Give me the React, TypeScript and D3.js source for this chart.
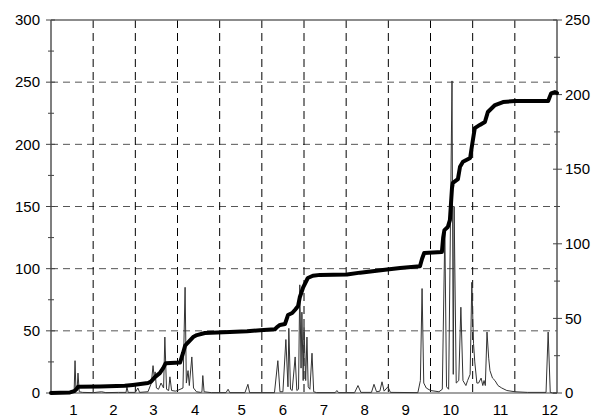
import React from "react";
import * as d3 from "d3";

// cumulative (thick) series: [x, value on left axis]
const cumX = [0, 0.45, 0.55, 0.6, 0.64, 1.16, 1.75, 1.94, 2.3, 2.37, 2.47, 2.58, 2.66, 2.72, 3.06, 3.13, 3.18, 3.23, 3.37, 3.46, 3.65, 4.24, 4.65, 4.96, 5.31, 5.36, 5.43, 5.55, 5.62, 5.72, 5.79, 5.86, 5.9, 5.98, 6.09, 6.21, 6.38, 7.02, 7.33, 7.87, 8.28, 8.75, 8.8, 8.85, 9.27, 9.3, 9.33, 9.41, 9.46, 9.51, 9.53, 9.65, 9.7, 9.77, 9.94, 9.98, 10.05, 10.17, 10.29, 10.36, 10.53, 10.72, 11.0, 11.79, 11.86, 11.95, 12.0];
const cumV = [0, 0.5, 1.5, 3, 5, 5.2, 5.8, 6.5, 8, 9.1, 13, 16, 20, 24, 24.5, 32, 38, 40, 45, 46.6, 48.3, 49.1, 49.6, 50.5, 51.3, 53, 54.7, 55.5, 62.7, 64.3, 67, 70, 77, 85, 92.5, 94.3, 95, 95.3, 96.8, 99, 100.5, 102, 108, 112.6, 113.4, 125, 131, 133.5, 139, 165, 169, 172, 182, 186, 189, 198, 213, 215.6, 218, 226, 231.6, 234, 234.9, 234.9, 241, 242, 241.3];

// chromatogram (thin) series: [x, value on left axis]
const sigX = [0, 0.5, 0.55, 0.57, 0.59, 0.62, 0.64, 0.67, 0.75, 1.0, 1.2, 1.3, 1.6, 1.78, 1.8, 1.83, 2.0, 2.06, 2.1, 2.3, 2.38, 2.42, 2.45, 2.47, 2.5, 2.55, 2.61, 2.67, 2.7, 2.74, 2.79, 2.82, 2.86, 2.95, 3.0, 3.13, 3.18, 3.21, 3.25, 3.28, 3.34, 3.38, 3.45, 3.55, 3.58, 3.6, 3.63, 3.8, 4.15, 4.2, 4.24, 4.6, 4.67, 4.71, 5.3, 5.38, 5.43, 5.5, 5.57, 5.62, 5.64, 5.68, 5.72, 5.79, 5.83, 5.87, 5.9, 5.93, 5.95, 5.98, 6.0, 6.04, 6.07, 6.1, 6.14, 6.19, 6.23, 6.3, 6.74, 6.78, 6.82, 7.2, 7.28, 7.35, 7.6, 7.66, 7.72, 7.8, 7.85, 7.9, 7.99, 8.05, 8.7, 8.76, 8.8, 8.84, 8.9, 9.0, 9.2, 9.28, 9.34, 9.38, 9.43, 9.51, 9.54, 9.56, 9.61, 9.67, 9.72, 9.77, 9.84, 9.88, 9.94, 9.98, 10.02, 10.05, 10.1, 10.14, 10.2, 10.24, 10.27, 10.3, 10.34, 10.38, 10.41, 10.47, 10.53, 10.6, 10.69, 10.81, 11.0, 11.3, 11.74, 11.79, 11.84, 11.9, 12.0];
const sigV = [0, 0, 3, 26, 4, 3, 16, 1, 0.5, 0.3, 1, 0.3, 0.5, 0.5, 5, 0.5, 0.5, 4, 0.5, 1, 8, 22, 12, 17, 4, 3, 8, 4, 45, 3, 2, 13, 2, 1.5, 2, 4, 85, 8, 18, 6, 29, 4, 1, 0.5, 1, 14, 1, 0.3, 0.3, 3, 0.3, 0.3, 7, 0.3, 0.3, 26, 1, 1, 43, 5, 52, 3, 2, 29, 2, 3, 87, 20, 65, 10, 53, 10, 45, 5, 3, 32, 1, 0.3, 0.3, 2, 0.3, 0.3, 6, 0.5, 0.5, 7, 1, 1.5, 9, 1.5, 5, 0.5, 0.3, 10, 84, 8, 4, 2, 1, 3, 130, 5, 3, 251, 15, 150, 8, 10, 69, 10, 6, 10, 15, 89, 40, 25, 8, 8, 12, 6, 10, 6, 49, 28, 18, 12, 10, 6, 4, 2, 1, 0.5, 0.5, 49, 0.5, 0, 0];

const leftTicks = [0, 50, 100, 150, 200, 250, 300];
const rightTicks = [0, 50, 100, 150, 200, 250];
const gridX = [1, 2, 3, 4, 5, 6, 7, 8, 9, 10, 11];
const xLabels = ["1", "2", "3", "4", "5", "6", "7", "8", "9", "10", "11", "12"];
const xLabelPos = [0.53, 1.48, 2.43, 3.42, 4.52, 5.5, 6.47, 7.44, 8.41, 9.48, 10.66, 11.83];

export default function App() {
  const W = 595, H = 420;
  const L = 51, R = 557, T = 20, B = 393;
  const x = d3.scaleLinear().domain([0, 12]).range([L, R]);
  const yL = d3.scaleLinear().domain([0, 300]).range([B, T]);
  const yR = d3.scaleLinear().domain([0, 250]).range([B, T]);

  const cum = cumX.map((v, i) => [v, cumV[i]] as [number, number]);
  const sig = sigX.map((v, i) => [v, sigV[i]] as [number, number]);
  const line = d3.line<[number, number]>().x(d => x(d[0])).y(d => yL(d[1]));

  const leftMinor = d3.range(25, 300, 50);
  const rightMinor = d3.range(25, 250, 50);
  const font = "'Liberation Sans', Arial, Helvetica, sans-serif";

  return (
    <svg width={W} height={H} style={{ position: "absolute", left: 0, top: 0, background: "#fff", fontFamily: font }}>
      {leftTicks.filter(t => t > 0 && t < 300).map(t => (
        <line key={"hg" + t} x1={L} x2={R} y1={yL(t)} y2={yL(t)} stroke="#555" strokeWidth={1} strokeDasharray="7,5" />
      ))}
      {gridX.map(g => (
        <line key={"vg" + g} x1={x(g)} x2={x(g)} y1={T} y2={B} stroke="#000" strokeWidth={1} strokeDasharray="8,5" />
      ))}
      <line x1={L} x2={R} y1={T} y2={T} stroke="#666" strokeWidth={1.5} />
      <line x1={L} x2={R} y1={B} y2={B} stroke="#444" strokeWidth={1.2} />
      <line x1={L} x2={L} y1={T} y2={B} stroke="#555" strokeWidth={1.5} />
      <line x1={R} x2={R} y1={T} y2={B} stroke="#555" strokeWidth={1.5} />
      {leftTicks.map(t => (
        <g key={"lt" + t}>
          <line x1={L - 5} x2={L + 4} y1={yL(t)} y2={yL(t)} stroke="#444" />
          <text x={L - 11} y={yL(t)} dy="0.35em" textAnchor="end" fontSize={15} fill="#000" style={{ fontFamily: font }}>{t}</text>
        </g>
      ))}
      {leftMinor.map(t => (
        <line key={"lm" + t} x1={L - 3} x2={L + 3} y1={yL(t)} y2={yL(t)} stroke="#444" />
      ))}
      {rightTicks.map(t => (
        <g key={"rt" + t}>
          <line x1={R - 4} x2={R + 5} y1={yR(t)} y2={yR(t)} stroke="#444" />
          <text x={R + 8} y={yR(t)} dy="0.35em" textAnchor="start" fontSize={15} fill="#000" style={{ fontFamily: font }}>{t}</text>
        </g>
      ))}
      {rightMinor.map(t => (
        <line key={"rm" + t} x1={R - 3} x2={R + 3} y1={yR(t)} y2={yR(t)} stroke="#444" />
      ))}
      {xLabels.map((lab, i) => (
        <text key={"xl" + i} x={x(xLabelPos[i])} y={415} textAnchor="middle" fontSize={15} fill="#000" style={{ fontFamily: font }}>{lab}</text>
      ))}
      <path d={line(sig) || ""} fill="none" stroke="#333" strokeWidth={1} strokeLinejoin="miter" />
      <path d={line(cum) || ""} fill="none" stroke="#000" strokeWidth={4} strokeLinejoin="round" strokeLinecap="round" />
    </svg>
  );
}
